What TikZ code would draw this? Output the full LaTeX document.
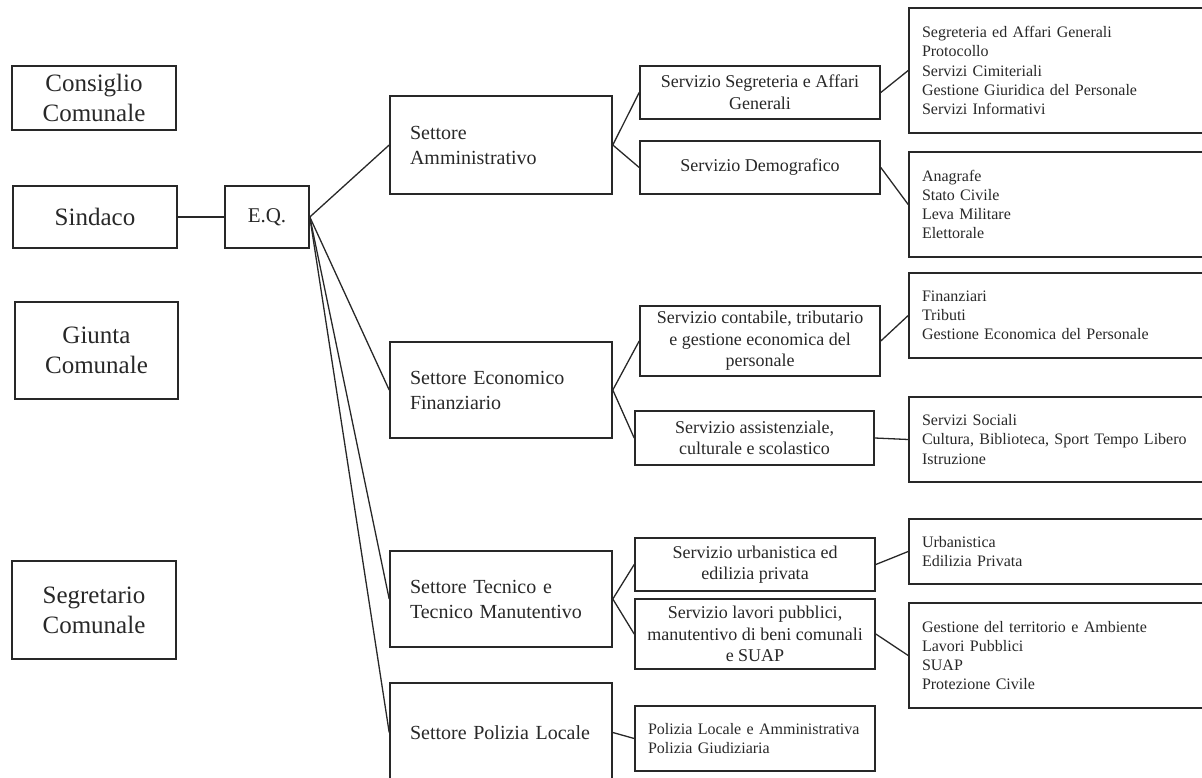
\documentclass[tikz,border=0pt]{standalone}
\usepackage{fontspec}
\setmainfont{Liberation Serif}
\definecolor{ink}{RGB}{40,40,40}

\begin{document}
\begin{tikzpicture}[x=1pt,y=-1pt,
    box/.style={draw=ink, line width=1.6pt, text=ink, inner sep=0pt},
    organo/.style={box, minimum width=164pt, align=center, font=\fontsize{25}{30}\selectfont},
    settore/.style={box, minimum width=222pt, text width=182pt, align=left, font=\fontsize{20}{25}\selectfont},
    servizio/.style={box, minimum width=240pt, align=center, font=\fontsize{18}{21.5}\selectfont},
    ufficio/.style={box, minimum width=296pt, text width=270pt, align=left, font=\fontsize{16}{19.2}\selectfont},
    link/.style={draw=ink, line width=1.3pt}]
  \clip (0,0) rectangle (1202,778);

  \node [organo, minimum height=64pt] (cc) at (94,98) {Consiglio\\Comunale};
  \node [organo, minimum height=62pt] (sind) at (95,217) {Sindaco};
  \node [organo, minimum height=97pt, minimum width=163pt] (giunta) at (96.5,350.5) {Giunta\\Comunale};
  \node [organo, minimum height=98pt] (segr) at (94,610) {Segretario\\Comunale};
  \node [box, minimum width=84pt, minimum height=62pt, font=\fontsize{21}{25}\selectfont] (eq) at (267,217) {E.Q.};

  \node [settore, minimum height=98pt] (s1) at (501,145) {Settore\\Amministrativo};
  \node [settore, minimum height=96pt] (s2) at (501,390) {Settore Economico\\Finanziario};
  \node [settore, minimum height=96pt] (s3) at (501,599) {Settore Tecnico e\\Tecnico Manutentivo};
  \node [settore, minimum height=99pt] (s4) at (501,732.5) {Settore Polizia Locale};

  \node [servizio, minimum height=53pt] (v1) at (760,92.5) {Servizio Segreteria e Affari\\Generali};
  \node [servizio, minimum height=53pt] (v2) at (760,167.5) {Servizio Demografico};
  \node [servizio, minimum height=70pt] (v3) at (760,341) {Servizio contabile, tributario\\e gestione economica del\\personale};
  \node [servizio, minimum height=54pt, minimum width=239pt] (v4) at (754.5,438) {Servizio assistenziale,\\culturale e scolastico};
  \node [servizio, minimum height=53pt] (v5) at (755,564.5) {Servizio urbanistica ed\\edilizia privata};
  \node [servizio, minimum height=70pt] (v6) at (755,634) {Servizio lavori pubblici,\\manutentivo di beni comunali\\e SUAP};
  \node [servizio, minimum height=65pt, text width=214pt, align=left, font=\fontsize{16}{19.2}\selectfont] (v7) at (755,738.5) {Polizia Locale e Amministrativa\\Polizia Giudiziaria};

  \node [ufficio, minimum height=125pt] (r1) at (1057,70.5) {Segreteria ed Affari Generali\\Protocollo\\Servizi Cimiteriali\\Gestione Giuridica del Personale\\Servizi Informativi};
  \node [ufficio, minimum height=105pt] (r2) at (1057,204.5) {Anagrafe\\Stato Civile\\Leva Militare\\Elettorale};
  \node [ufficio, minimum height=85pt] (r3) at (1057,315.5) {Finanziari\\Tributi\\Gestione Economica del Personale};
  \node [ufficio, minimum height=85pt] (r4) at (1057,439.5) {Servizi Sociali\\Cultura, Biblioteca, Sport Tempo Libero\\Istruzione};
  \node [ufficio, minimum height=65pt] (r5) at (1057,551.5) {Urbanistica\\Edilizia Privata};
  \node [ufficio, minimum height=105pt] (r6) at (1057,655.5) {Gestione del territorio e Ambiente\\Lavori Pubblici\\SUAP\\Protezione Civile};

  \draw [link] (sind.east) -- (eq.west);
  \foreach \a/\b in {eq/s1,eq/s2,eq/s3,eq/s4,s1/v1,s1/v2,s2/v3,s2/v4,s3/v5,s3/v6,s4/v7,v1/r1,v2/r2,v3/r3,v4/r4,v5/r5,v6/r6}
    \draw [link] (\a.east) -- (\b.west);
\end{tikzpicture}
\end{document}
